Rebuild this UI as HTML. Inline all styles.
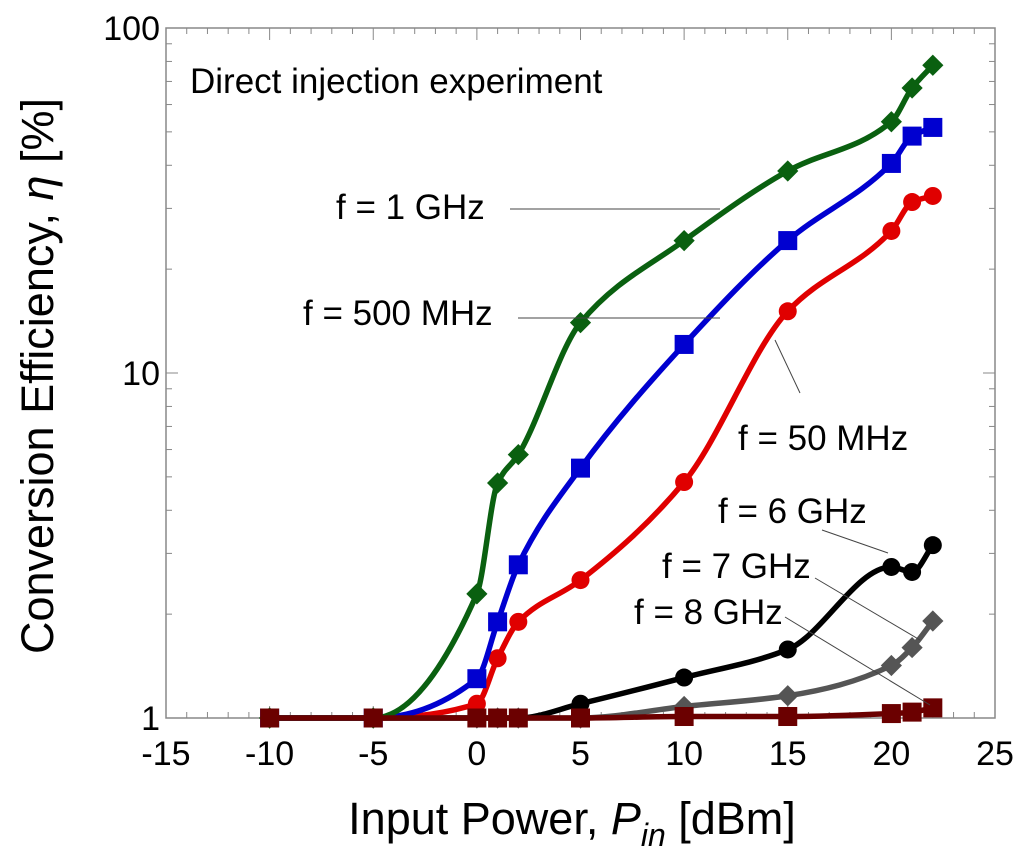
<!DOCTYPE html>
<html><head><meta charset="utf-8"><style>
body{margin:0;background:#fff}
svg text{font-family:"Liberation Sans",sans-serif}
</style></head><body>
<svg id="chart" width="1024" height="857" xmlns="http://www.w3.org/2000/svg">
<g id="marks"></g>
</svg>
<script>
const xVals=[-10,-5,0,1,2,5,10,15,20,21,22];
const s1GHz=[1,1,2.29,4.8,5.8,14.0,24.2,38.5,53.5,67,78];
const s500MHz=[1,1,1.30,1.9,2.78,5.3,12.1,24.2,40.5,48.6,51.5];
const s50MHz=[1,1,1.1,1.49,1.9,2.51,4.83,15.1,25.8,31.3,32.6];
const s6GHz=[1,1,1,1,1,1.1,1.31,1.58,2.74,2.65,3.17];
const s7GHz=[1,1,1,1,1,1.0,1.08,1.16,1.42,1.6,1.91];
const s8GHz=[1,1,1,1,1,1,1.01,1.01,1.03,1.04,1.07];
const xTicks=[-15,-10,-5,0,5,10,15,20,25];
const yTicks=[1,10,100];
const L=166,R=995,T=28,B=718;
const X=v=>L+(v+15)*(R-L)/40;
const Y=v=>B-(B-T)/2*Math.log10(v);
const NS="http://www.w3.org/2000/svg";
const g=document.getElementById('marks');
function mk(tag,attrs,parent){const e=document.createElementNS(NS,tag);for(const k in attrs)e.setAttribute(k,attrs[k]);(parent||g).appendChild(e);return e;}
let fr=mk('rect',{x:L,y:T,width:R-L,height:B-T,fill:'none',stroke:'#888','stroke-width':1.5});


for(let v=-15;v<=25;v++){const len=(v%5===0)?12:6;
 mk('line',{x1:X(v),x2:X(v),y1:B,y2:B-len,stroke:'#888'});mk('line',{x1:X(v),x2:X(v),y1:T,y2:T+len,stroke:'#888'});}
for(let d=1;d<=100;d*=10){for(let m=1;m<10&&d*m<=100;m++){const v=d*m;const len=m===1?12:6;
 mk('line',{x1:L,x2:L+len,y1:Y(v),y2:Y(v),stroke:'#888'});mk('line',{x1:R,x2:R-len,y1:Y(v),y2:Y(v),stroke:'#888'});}}
xTicks.forEach(v=>{const t=mk('text',{x:X(v),y:765,'font-size':34,'text-anchor':'middle'});t.textContent=v;
 
 });
yTicks.forEach(v=>{const t=mk('text',{x:L-6,y:Y(v)+12,'font-size':34,'text-anchor':'end'});t.textContent=v;
 
 });
// monotone cubic (Fritsch-Carlson) in screen space
function path(vals){const p=xVals.map((x,i)=>[X(x),Y(vals[i])]);const n=p.length;
 const dx=[],s=[];for(let i=0;i<n-1;i++){dx.push(p[i+1][0]-p[i][0]);s.push((p[i+1][1]-p[i][1])/dx[i]);}
 const m=[s[0]];for(let i=1;i<n-1;i++){if(s[i-1]*s[i]<=0)m.push(0);else{const w1=2*dx[i]+dx[i-1],w2=dx[i]+2*dx[i-1];m.push((w1+w2)/(w1/s[i-1]+w2/s[i]));}}m.push(s[n-2]);
 let d=`M${p[0][0]},${p[0][1]}`;
 for(let i=0;i<n-1;i++){const h=dx[i]/3;d+=` C${p[i][0]+h},${p[i][1]+m[i]*h} ${p[i+1][0]-h},${p[i+1][1]-m[i+1]*h} ${p[i+1][0]},${p[i+1][1]}`;}return d;}
function marker(type,x,y,c,name){let e;
 if(type==='d'){e=mk('rect',{x:x-7.5,y:y-7.5,width:15,height:15,fill:c,transform:`rotate(45 ${x} ${y})`});}
 else if(type==='s'){e=mk('rect',{x:x-9.5,y:y-9.5,width:19,height:19,fill:c});}
 else e=mk('circle',{cx:x,cy:y,r:9,fill:c});
 
 }
const series=[[s7GHz,'#555','d','7ghz'],[s6GHz,'#000','c','6ghz'],[s50MHz,'#e00000','c','50mhz'],[s500MHz,'#0000d0','s','500mhz'],[s1GHz,'#0a6010','d','1ghz'],[s8GHz,'#6b0000','s','8ghz']];
series.forEach(([vals,c,t,n])=>{const p=mk('path',{d:path(vals),fill:'none',stroke:c,'stroke-width':5.5});
 
 
 xVals.forEach((x,i)=>marker(t,X(x),Y(vals[i]),c,'point-'+n));});
const ann=[['f = 1 GHz',336,219,510,209,720,209],['f = 500 MHz',303,325,518,318,720,318],['f = 50 MHz',738,450,800,393,775,340],['f = 6 GHz',718,523,822,530,888,553],['f = 7 GHz',662,578,815,578,920,640],['f = 8 GHz',634,624,785,617,930,705]];
ann.forEach(a=>{const t=mk('text',{x:a[1],y:a[2],'font-size':35});t.textContent=a[0];
 
 
 mk('line',{x1:a[3],y1:a[4],x2:a[5],y2:a[6],stroke:'#444','stroke-width':1});});
let t=mk('text',{x:190,y:93,'font-size':35});t.textContent='Direct injection experiment';


t=mk('text',{x:572,y:834,'font-size':45,'text-anchor':'middle'});
t.innerHTML='Input Power, <tspan font-style="italic">P</tspan><tspan font-style="italic" font-size="32" dy="12">in</tspan><tspan dy="-12"> [dBm]</tspan>';


t=mk('text',{x:0,y:0,'font-size':45,'text-anchor':'middle',transform:'translate(53,376) rotate(-90)'});
t.innerHTML='Conversion Efficiency, <tspan font-style="italic">η</tspan> [%]';


</script>
</body></html>
